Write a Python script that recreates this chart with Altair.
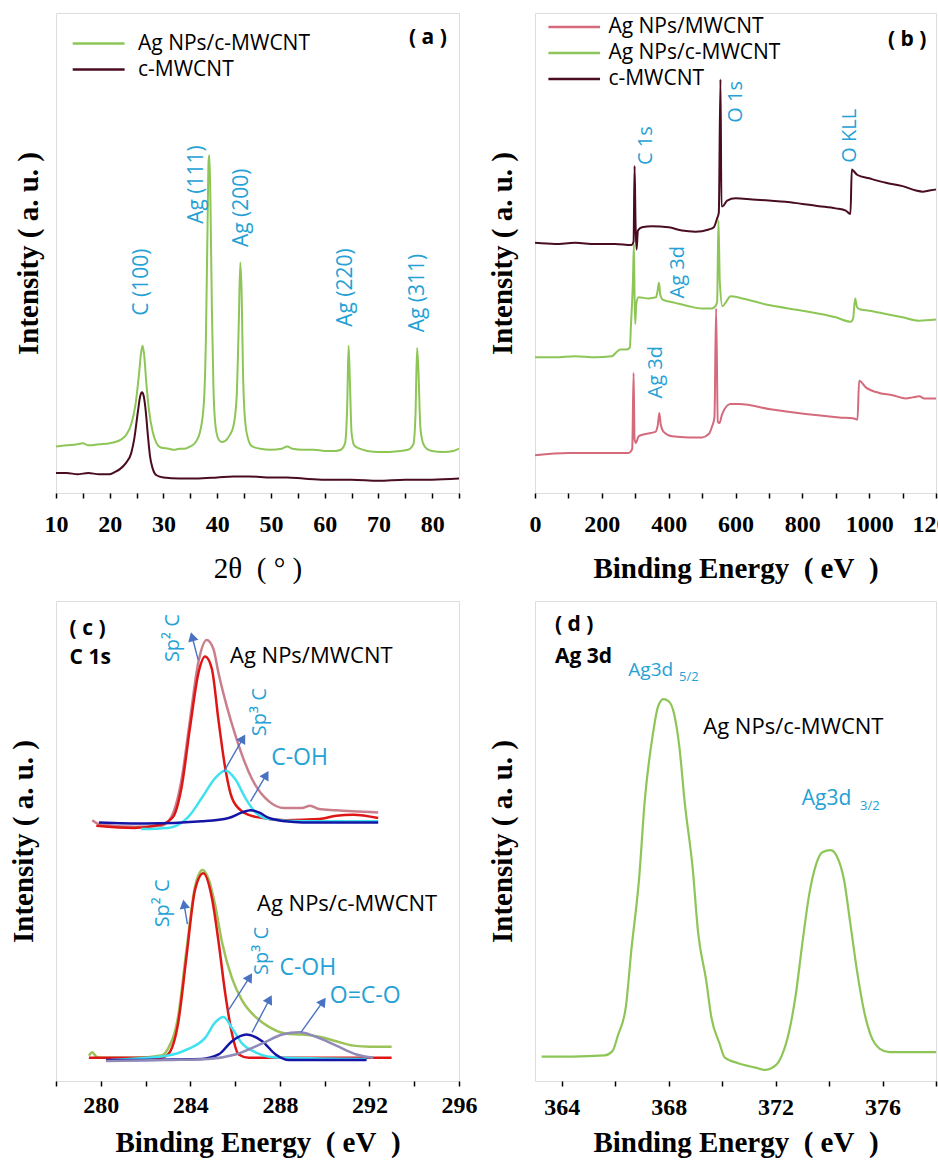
import altair as alt
import pandas as pd

SANS = "Open Sans"
SERIF = "Liberation Serif"
GREEN = "#8dc657"
MAROON = "#4a0d1f"
PINK = "#d46a7c"
BLUE_TXT = "#25a1d5"
ARROW = "#4a72c2"
RED = "#de1616"
CYAN = "#41e2ef"
NAVY = "#1515a5"
GREYP = "#8f8ab8"
MAUVE = "#c97f8b"
OLIVE = "#9cc25a"

# ---------------- Panel (a): XRD ----------------
A_TT_AG = [10, 12, 14, 15, 16, 18, 20, 21, 22, 23, 24, 24.8, 25.4, 25.8, 26.1, 26.4, 26.8, 27.3, 28, 28.7,
           29.5, 31, 32, 33, 34, 35, 36, 36.8, 37.5, 37.9, 38.2, 38.4, 38.55, 38.75, 39, 39.3, 39.7, 40.3, 40.8, 41.5,
           42.3, 43.0, 43.6, 44.0, 44.3, 44.55, 44.8, 45.2, 45.8, 46.5, 48, 50, 52, 53, 54, 56, 58, 60, 62, 63,
           63.8, 64.2, 64.45, 64.7, 65.0, 65.5, 66.5, 68, 70, 72, 74, 75.5, 76.5, 76.9, 77.2, 77.45, 77.8, 78.3, 79, 80,
           82, 84, 85]
A_I_AG = [42, 43, 44, 45, 43, 44, 45, 46, 48, 52, 62, 80, 105, 125, 133, 125, 100, 75, 55, 45,
          41, 40, 39, 40, 40, 42, 46, 55, 80, 140, 240, 300, 305, 260, 170, 95, 60, 48, 46, 47,
          52, 60, 85, 150, 208, 180, 110, 65, 48, 42, 40, 39, 40, 42, 40, 39, 39, 38, 38, 39,
          45, 80, 133, 100, 55, 43, 40, 38, 37, 37, 38, 39, 44, 70, 131, 110, 60, 45, 40, 38,
          37, 38, 40]
A_TT_C = [10, 12, 14, 16, 18, 20, 21, 22, 23, 24, 24.6, 25.2, 25.7, 26.0, 26.3, 26.7, 27.1, 27.5, 28, 28.7,
          30, 33, 36, 40, 43, 46, 50, 53, 56, 60, 65, 70, 75, 80, 85]
A_I_C = [18, 18, 17, 18, 17, 17, 19, 22, 27, 36, 50, 72, 88, 91, 88, 74, 52, 33, 22, 16,
         14, 13, 13, 14, 15, 15, 14, 14, 13, 12, 12, 11, 12, 12, 13]
A_PEAK_TEXT = ["C (100)", "Ag (111)", "Ag (200)", "Ag (220)", "Ag (311)"]
A_PEAK_X = [26.0, 36.3, 44.7, 64.0, 77.3]
A_PEAK_Y = [160, 243, 222, 150, 145]
A_TICKS = [10, 15, 20, 25, 30, 35, 40, 45, 50, 55, 60, 65, 70, 75, 80, 85]
A_SERIES = ["Ag NPs/c-MWCNT", "c-MWCNT"]

# ---------------- Panel (b): XPS survey ----------------
B_E_DARK = [0, 60, 120, 180, 240, 288, 295, 298, 301, 304, 308, 320, 350, 400, 440, 480, 520, 535, 545, 550,
            555, 558, 562, 575, 600, 650, 700, 750, 800, 850, 900, 930, 944, 948, 952, 965, 1000, 1050, 1100, 1140,
            1160, 1180, 1200]
B_I_DARK = [225, 224, 225, 224, 224, 223, 226, 294, 240, 219, 236, 239, 240, 239, 236, 235, 237, 239, 247, 252,
            372, 258, 258, 263, 265, 264, 263, 262, 260, 258, 256, 254, 251, 291, 290, 286, 283, 279, 276, 272,
            271, 272, 273]
B_E_GREEN = [0, 60, 120, 180, 230, 245, 255, 275, 284, 287, 290, 293, 296, 298, 300, 303, 310, 340, 362, 367,
             371, 375, 382, 420, 460, 500, 530, 540, 545, 549, 553, 561, 572, 585, 620, 700, 800, 900, 945, 952,
             958, 964, 975, 1000, 1050, 1100, 1150, 1200]
B_I_GREEN = [122, 122, 123, 122, 123, 127, 129, 129, 131, 150, 168, 190, 224, 175, 152, 170, 176, 175, 176, 182,
             189, 178, 174, 171, 168, 166, 166, 168, 172, 245, 190, 168, 172, 177, 175, 169, 164, 158, 154, 157,
             175, 167, 165, 164, 161, 158, 155, 156]
B_E_PINK = [0, 100, 200, 280, 288, 291, 295, 298, 302, 310, 330, 360, 368, 372, 376, 385, 410, 460, 500, 520,
            530, 537, 542, 547, 552, 560, 585, 610, 710, 810, 910, 955, 965, 970, 990, 1030, 1070, 1110, 1130, 1150,
            1165, 1200]
B_I_PINK = [34, 36, 36, 36, 38, 40, 108, 48, 45, 51, 53, 55, 62, 72, 62, 55, 51, 50, 50, 53,
            60, 68, 166, 64, 63, 71, 80, 80, 75, 71, 68, 67, 66, 101, 95, 90, 88, 85, 86, 87,
            85, 85]
B_PEAK_TEXT = ["C 1s", "O 1s", "O KLL", "Ag 3d", "Ag 3d"]
B_PEAK_X = [332, 600, 943, 427, 362]
B_PEAK_Y = [295, 333, 297, 175, 85]
B_TICKS = [0, 100, 200, 300, 400, 500, 600, 700, 800, 900, 1000, 1100, 1200]
B_SERIES = ["Ag NPs/MWCNT", "Ag NPs/c-MWCNT", "c-MWCNT"]

# ---------------- Panel (c): C 1s ----------------
C_E_ENV1 = [279.62, 280.0, 281.5, 282.7, 283.15, 283.61, 283.98, 284.36, 284.73, 285.03, 285.26, 286.01, 286.76,
            287.51, 288.19, 288.98, 289.35, 289.75, 290.52, 291.27, 292.39]
C_I_ENV1 = [236, 232, 230, 231, 239, 273, 326, 379, 399, 391, 369, 313, 273, 253, 247, 247, 249, 246, 245, 244, 243]
C_E_RED1 = [279.8, 281.5, 282.7, 283.23, 283.61, 283.98, 284.36, 284.66, 284.96, 285.26, 285.56, 285.86, 286.31,
            286.91, 288.26, 289.76, 290.52, 291.27, 292.39]
C_I_RED1 = [231, 229, 232, 239, 266, 319, 369, 384, 373, 326, 283, 256, 244, 239, 236, 237, 240, 241, 238]
C_E_CYAN1 = [281.8, 283.0, 283.91, 284.51, 285.11, 285.56, 286.01, 286.46, 286.91, 287.51, 289.01, 292.39]
C_I_CYAN1 = [228, 229, 239, 256, 274, 281, 273, 256, 243, 237, 235, 235]
C_E_BLUE1 = [279.92, 282.0, 284.51, 285.71, 286.31, 286.69, 287.06, 287.51, 288.26, 289.01, 292.39]
C_I_BLUE1 = [234, 233, 235, 238, 243, 245, 243, 238, 235, 234, 234]
C_E_ENV2 = [279.47, 279.62, 279.8, 280.0, 281.5, 282.7, 283.0, 283.46, 283.83, 284.21, 284.55, 284.81, 285.11,
            285.41, 285.86, 286.31, 286.91, 287.51, 288.26, 289.01, 289.76, 290.52, 291.27, 292.02, 292.99]
C_I_ENV2 = [23, 26, 22, 21, 21, 23, 29, 59, 119, 176, 191, 183, 159, 126, 93, 73, 58, 49, 43, 42, 40, 36, 32, 31, 31]
C_E_RED2 = [279.47, 282.7, 283.0, 283.46, 283.83, 284.21, 284.58, 284.96, 285.26, 285.56, 285.86, 286.16, 286.61, 292.99]
C_I_RED2 = [21, 21, 24, 53, 113, 173, 188, 166, 126, 79, 43, 24, 21, 21]
C_E_CYAN2 = [280.45, 283.0, 283.91, 284.66, 285.11, 285.48, 285.86, 286.31, 286.91, 287.51, 288.26, 291.87]
C_I_CYAN2 = [19, 23, 29, 39, 53, 58, 48, 34, 26, 22, 21, 20]
C_E_BLUE2 = [280.23, 284.51, 285.26, 285.86, 286.51, 287.21, 287.81, 288.41, 291.87]
C_I_BLUE2 = [19, 20, 24, 36, 42, 36, 24, 19, 19]
C_E_GREY2 = [280.23, 283.0, 284.81, 286.01, 287.21, 288.11, 288.86, 289.61, 290.52, 291.42, 292.17]
C_I_GREY2 = [18, 19, 20, 24, 34, 42, 44, 40, 32, 24, 21]
C_VTEXT = ["Sp\u00b2 C", "Sp\u00b3 C", "Sp\u00b2 C", "Sp\u00b3 C"]
C_VTEXT_X = [283.24, 287.12, 282.78, 287.2]
C_VTEXT_Y = [379, 312, 139, 96]
C_HTEXT = ["C-OH", "C-OH", "O=C-O"]
C_HTEXT_X = [287.61, 287.98, 290.23]
C_HTEXT_Y = [292, 102, 77]
C_ARROW_X0 = [284.35, 285.5, 286.69, 283.87, 285.7, 286.76, 288.94]
C_ARROW_Y0 = [381, 280, 253, 142, 64, 44, 44]
C_ARROW_X1 = [284.08, 286.35, 287.39, 283.72, 286.65, 287.54, 289.93]
C_ARROW_Y1 = [402, 310, 277, 160, 94, 74, 72]
C_ARROW_ANG = [345, 30, 30, 350, 32, 28, 35]
C_TICKS = [278, 280, 282, 284, 286, 288, 290, 292, 294, 296]

# ---------------- Panel (d): Ag 3d ----------------
D_E = [363.25, 364.4, 365.6, 365.9, 366.1, 366.4, 366.6, 366.9, 367.1, 367.4, 367.6, 367.8, 368.0, 368.2, 368.4,
       368.6, 368.9, 369.1, 369.4, 369.6, 369.9, 370.1, 370.6, 371.25, 371.6, 372.0, 372.25, 372.5, 372.75, 373.0,
       373.25, 373.5, 373.75, 374.06, 374.3, 374.56, 374.8, 375.06, 375.3, 375.56, 375.9, 376.25, 376.9, 378.0]
D_I = [22, 22, 23, 27, 41, 67, 117, 184, 251, 311, 337, 344, 342, 331, 301, 251, 191, 134, 91, 57,
       34, 21, 16, 12, 10, 14, 24, 44, 77, 124, 167, 194, 206, 208, 202, 181, 141, 97, 64, 41,
       29, 26, 26, 26]
D_TICKS = [364, 366, 368, 370, 372, 374, 376, 378]


def x_enc(field, dom, ticks, step, title, lpad, tpad, weight="bold"):
    return alt.X(f"{field}:Q", scale=alt.Scale(domain=dom, nice=False, zero=False),
                 axis=alt.Axis(values=ticks, format="d",
                               labelExpr=f"datum.value % {step} == 0 ? datum.label : ''",
                               labelFont=SERIF, labelFontSize=24, labelFontWeight="bold", labelColor="black",
                               labelPadding=lpad, labelFlush=False, labelOverlap=False, labelBound=False,
                               tickSize=5, tickWidth=1.5, tickColor="black", domain=False, grid=False,
                               title=title, titleFont=SERIF, titleFontSize=29, titleFontWeight=weight,
                               titleColor="black", titlePadding=tpad))


def y_enc(field, dom, tpad):
    return alt.Y(f"{field}:Q", scale=alt.Scale(domain=dom, nice=False, zero=False),
                 axis=alt.Axis(labels=False, ticks=False, domain=False, grid=False,
                               title="Intensity ( a. u. )", titleFont=SERIF, titleFontSize=29,
                               titleFontWeight="bold", titleColor="black", titlePadding=tpad))


def line(xs, ys, xe, ye, xf, yf, color, w=2.0):
    df = pd.DataFrame({xf: xs, yf: ys})
    return alt.Chart(df).mark_line(color=color, strokeWidth=w, interpolate="monotone", clip=True).encode(x=xe, y=ye)


def vlabels(xs, ys, texts, xe, ye, xf, yf, size):
    df = pd.DataFrame({xf: xs, yf: ys, "t": texts})
    return alt.Chart(df).mark_text(angle=270, align="left", baseline="middle", font=SANS, fontSize=size,
                                   color=BLUE_TXT).encode(x=xe, y=ye, text="t:N")


def ptext(text, x, y, size, color="black", weight="normal"):
    return alt.Chart(pd.DataFrame({"t": [text]})).mark_text(
        align="left", baseline="middle", font=SANS, fontSize=size, fontWeight=weight, color=color
    ).encode(x=alt.value(x), y=alt.value(y), text="t:N")


def legend(labels, colors, x0, x1, xt, ys, size=21):
    out = []
    for lab, col, y in zip(labels, colors, ys):
        d = pd.DataFrame({"t": [lab]})
        out.append(alt.Chart(d).mark_rule(color=col, strokeWidth=2.5).encode(
            x=alt.value(x0), x2=alt.value(x1), y=alt.value(y)))
        out.append(alt.Chart(d).mark_text(align="left", baseline="middle", font=SANS, fontSize=size,
                                          color="black").encode(x=alt.value(xt), y=alt.value(y), text="t:N"))
    return out


W_L, W_R, H = 403, 401, 480
BE_TITLE = "Binding Energy\u00a0\u00a0(\u00a0eV\u00a0\u00a0)"

# ---- panel a ----
axa = x_enc("tt", [10, 85], A_TICKS, 10, "2\u03b8\u00a0\u00a0(\u00a0\u00b0\u00a0)", 14, 18, weight="normal")
aya = y_enc("ia", [0, 433.3], 13)
pa = alt.layer(
    line(A_TT_AG, A_I_AG, axa, aya, "tt", "ia", GREEN),
    line(A_TT_C, A_I_C, axa, aya, "tt", "ia", MAROON),
    vlabels(A_PEAK_X, A_PEAK_Y, A_PEAK_TEXT, axa, aya, "tt", "ia", 21),
    *legend(A_SERIES, [GREEN, MAROON], 16.7, 68.6, 82, [30.5, 56.5]),
    ptext("( a )", 353, 25, 21, weight="bold"),
).properties(width=W_L, height=H)

# ---- panel b ----
axb = x_enc("eb", [0, 1200], B_TICKS, 200, BE_TITLE, 14, 18)
ayb = y_enc("ib", [0, 431.7], 18)
pb = alt.layer(
    line(B_E_PINK, B_I_PINK, axb, ayb, "eb", "ib", PINK),
    line(B_E_GREEN, B_I_GREEN, axb, ayb, "eb", "ib", GREEN),
    line(B_E_DARK, B_I_DARK, axb, ayb, "eb", "ib", MAROON),
    vlabels(B_PEAK_X, B_PEAK_Y, B_PEAK_TEXT, axb, ayb, "eb", "ib", 20),
    *legend(B_SERIES, [PINK, GREEN, MAROON], 13.4, 65, 73.4, [14, 40, 66]),
    ptext("( b )", 353, 27, 21, weight="bold"),
).properties(width=W_R, height=H)

# ---- panel c ----
axc = x_enc("ec", [278, 296], C_TICKS, 4, BE_TITLE, 7, 11)
ayc = y_enc("ic", [0, 434.3], 18)
arrow_df = pd.DataFrame({"ec": C_ARROW_X0, "ic": C_ARROW_Y0, "ec2": C_ARROW_X1, "ic2": C_ARROW_Y1})
head_df = pd.DataFrame({"ec": C_ARROW_X1, "ic": C_ARROW_Y1, "ang": C_ARROW_ANG})
htext_df = pd.DataFrame({"ec": C_HTEXT_X, "ic": C_HTEXT_Y, "t": C_HTEXT})
pc = alt.layer(
    line(C_E_ENV1, C_I_ENV1, axc, ayc, "ec", "ic", MAUVE, 2.5),
    line(C_E_RED1, C_I_RED1, axc, ayc, "ec", "ic", RED, 2.5),
    line(C_E_CYAN1, C_I_CYAN1, axc, ayc, "ec", "ic", CYAN, 2.5),
    line(C_E_BLUE1, C_I_BLUE1, axc, ayc, "ec", "ic", NAVY, 2.5),
    line(C_E_ENV2, C_I_ENV2, axc, ayc, "ec", "ic", OLIVE, 2.5),
    line(C_E_RED2, C_I_RED2, axc, ayc, "ec", "ic", RED, 2.5),
    line(C_E_CYAN2, C_I_CYAN2, axc, ayc, "ec", "ic", CYAN, 2.5),
    line(C_E_BLUE2, C_I_BLUE2, axc, ayc, "ec", "ic", NAVY, 2.5),
    line(C_E_GREY2, C_I_GREY2, axc, ayc, "ec", "ic", GREYP, 2.5),
    alt.Chart(arrow_df).mark_rule(color=ARROW, strokeWidth=1.4).encode(
        x=axc, y=ayc, x2="ec2:Q", y2="ic2:Q"),
    alt.Chart(head_df).mark_point(shape="triangle-up", filled=True, size=110, color=ARROW, opacity=1).encode(
        x=axc, y=ayc, angle=alt.Angle("ang:Q", scale=None)),
    vlabels(C_VTEXT_X, C_VTEXT_Y, C_VTEXT, axc, ayc, "ec", "ic", 20),
    alt.Chart(htext_df).mark_text(align="left", baseline="middle", font=SANS, fontSize=23,
                                  color=BLUE_TXT).encode(x=axc, y=ayc, text="t:N"),
    ptext("( c )", 13.6, 28, 21, weight="bold"),
    ptext("C 1s", 13.6, 57.4, 21, weight="bold"),
    ptext("Ag NPs/MWCNT", 174, 54.5, 22),
    ptext("Ag NPs/c-MWCNT", 201, 303, 22),
).properties(width=W_L, height=H)

# ---- panel d ----
axd = x_enc("ed", [363, 378], D_TICKS, 4, BE_TITLE, 9, 9)
ayd = y_enc("id", [0, 432.3], 18)
pd_ = alt.layer(
    line(D_E, D_I, axd, ayd, "ed", "id", GREEN, 2.2),
    ptext("( d )", 20, 24, 21, weight="bold"),
    ptext("Ag 3d", 20, 55.5, 21, weight="bold"),
    ptext("Ag3d", 93.3, 68.5, 19, color=BLUE_TXT),
    ptext("5/2", 144, 76, 13, color=BLUE_TXT),
    ptext("Ag NPs/c-MWCNT", 168.3, 125.8, 22),
    ptext("Ag3d", 266.7, 198, 21, color=BLUE_TXT),
    ptext("3/2", 325, 205, 13, color=BLUE_TXT),
).properties(width=W_R, height=H)

chart = alt.concat(
    pa, pb, pc, pd_, columns=2, spacing={"row": 108, "column": 76}, bounds="flush"
).resolve_scale(x="independent", y="independent").properties(
    padding={"left": 8, "top": 12, "right": -23, "bottom": 0}
).configure_view(stroke="#1a1a1a", strokeWidth=2).configure(background="white")

chart.save("out.html", embed_options={"renderer": "svg", "actions": False})
